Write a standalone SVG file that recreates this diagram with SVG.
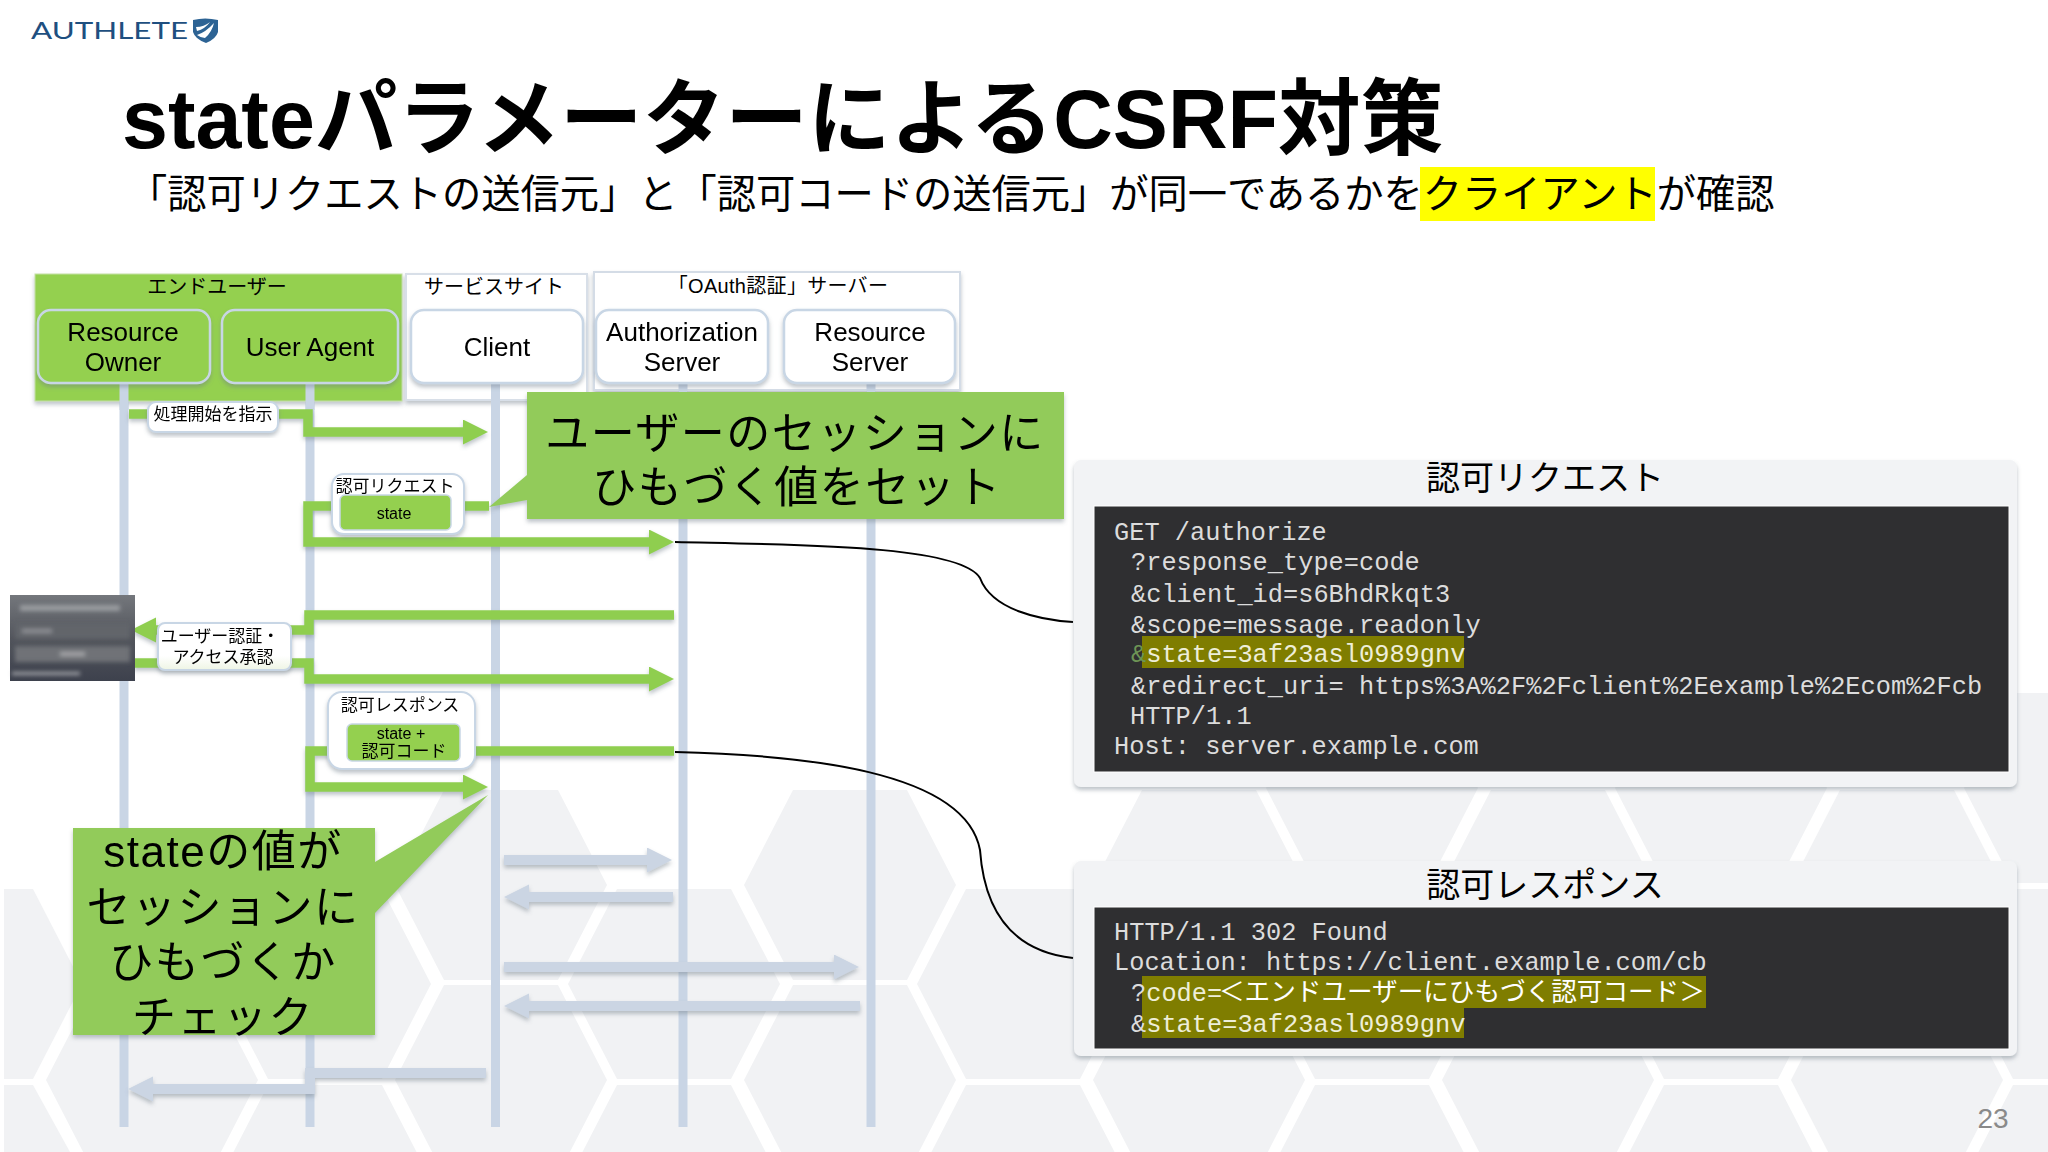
<svg xmlns="http://www.w3.org/2000/svg" width="2048" height="1152" viewBox="0 0 2048 1152">
<defs>
<style>
text{font-family:"Liberation Sans","Noto Sans CJK JP",sans-serif;fill:#000}
.mid{text-anchor:middle}
.node{font-size:26px}
.grp{font-size:20px}
.lbl{font-size:17px}
.call{font-size:44px;letter-spacing:1.500px}
.mono{font-family:"Liberation Mono","Noto Sans CJK JP",monospace;font-size:25.33px;fill:#dcdcdc}
.hl{fill:#7f7d00}
.ptitle{font-size:34px}
.life{stroke:#c9d5e5;stroke-width:9;fill:none}
.g{stroke:#8fce50;stroke-width:9.500;fill:none;marker-end:url(#hg);stroke-linejoin:miter}
.s{stroke:#cbd5e3;stroke-width:10;fill:none;marker-end:url(#hs);stroke-linejoin:miter}
.nb{stroke:#c8d6e5;stroke-width:2.500}
.green{fill:#94d050}
.callbox{fill:#92cb5a}
.pill{fill:#fff;stroke:#c8d6e5;stroke-width:2}
.panel{fill:#f2f3f5}
.dark{fill:#2f2f31;stroke:#fff;stroke-width:1}
.hex{fill:#f1f2f4}
</style>
<marker id="hg" markerUnits="userSpaceOnUse" markerWidth="26" markerHeight="26" refX="0" refY="12.500" orient="auto"><path d="M0 0L25 12.500L0 25Z" fill="#8fce50"/></marker>
<marker id="hs" markerUnits="userSpaceOnUse" markerWidth="26" markerHeight="26" refX="0" refY="12.500" orient="auto"><path d="M0 0L25 12.500L0 25Z" fill="#cbd5e3"/></marker>
<filter id="sh" x="-10%" y="-10%" width="120%" height="130%"><feDropShadow dx="0" dy="3" stdDeviation="2" flood-color="#6e7a88" flood-opacity=".45"/></filter>
<filter id="b" x="-5%" y="-30%" width="110%" height="160%"><feGaussianBlur stdDeviation="2.200"/></filter>
<linearGradient id="shot" x1="0" y1="0" x2="0" y2="1"><stop offset="0" stop-color="#74777c"/><stop offset=".5" stop-color="#52555c"/><stop offset="1" stop-color="#3d414d"/></linearGradient>
<linearGradient id="pg" x1="0" y1="0" x2="0" y2="1"><stop offset="0" stop-color="#fff"/><stop offset=".7" stop-color="#fff"/><stop offset="1" stop-color="#eef5e4"/></linearGradient>
<polygon id="hx" class="hex" points="-57,0 57,0 106,95 57,190 -57,190 -106,95"/>
</defs>
<rect width="2048" height="1152" fill="#fff"/>
<g id="background">
<use href="#hx" x="1372" y="693"/><use href="#hx" x="1721" y="693"/><use href="#hx" x="2070" y="693"/>
<use href="#hx" x="501" y="790"/><use href="#hx" x="850" y="790"/><use href="#hx" x="1199" y="790"/><use href="#hx" x="1548" y="790"/><use href="#hx" x="1897" y="790"/>
<use href="#hx" x="325" y="889"/><use href="#hx" x="674" y="889"/><use href="#hx" x="1023" y="889"/><use href="#hx" x="1372" y="889"/><use href="#hx" x="1721" y="889"/><use href="#hx" x="2070" y="889"/>
<use href="#hx" x="152" y="985"/><use href="#hx" x="501" y="985"/><use href="#hx" x="850" y="985"/><use href="#hx" x="1199" y="985"/><use href="#hx" x="1548" y="985"/><use href="#hx" x="1897" y="985"/>
<use href="#hx" x="325" y="1085"/><use href="#hx" x="674" y="1085"/><use href="#hx" x="1023" y="1085"/><use href="#hx" x="1372" y="1085"/><use href="#hx" x="1721" y="1085"/><use href="#hx" x="2070" y="1085"/>
<polygon class="hex" points="4,889 33,889 82,984 33,1079 4,1079"/>
<polygon class="hex" points="4,1085 33,1085 70,1152 4,1152"/>
</g>
<g id="logo">
<text x="31" y="39" font-size="24" textLength="157" lengthAdjust="spacingAndGlyphs" style="font-family:Lato,'Liberation Sans',sans-serif;fill:#1e4f80">AUTHLETE</text>
<path d="M193 20Q205 17 218 20V32Q216 39 206 43Q195 39 193 32Z" fill="#2d6394"/>
<path d="M197 35Q206 32 214 23Q212 32 205 38Q201 38 197 35Z M196 27Q204 27 210 22Q205 29 197 31Z" fill="#fff"/>
</g>
<g id="title">
<text x="122" y="148" font-size="82.600" font-weight="700">stateパラメーターによるCSRF対策</text>
<rect x="1420" y="167" width="235" height="54" fill="#ffff00"/>
<text x="128" y="208" font-size="39.250">「認可リクエストの送信元」と「認可コードの送信元」が同一であるかをクライアントが確認</text>
</g>
<g id="lifelines">
<path class="life" d="M124 383V1127M310 383V1127M495.500 383V1127M683 383V1127M871 383V1127"/>
</g>
<g id="group-enduser" filter="url(#sh)">
<rect class="green" x="35" y="274" width="367" height="127" stroke="#c3dfa4" stroke-width="1"/>
</g>
<text class="grp mid" x="217" y="294">エンドユーザー</text>
<g id="group-service" filter="url(#sh)">
<rect x="406" y="274" width="181" height="126" fill="#fff" stroke="#d8dfe8" stroke-width="2"/>
</g>
<text class="grp mid" x="494" y="294">サービスサイト</text>
<g id="group-oauth" filter="url(#sh)">
<rect x="594" y="272" width="366" height="118" fill="#fff" stroke="#d4dce6" stroke-width="2"/>
</g>
<text class="grp mid" x="778" y="293" style="letter-spacing:.3px">「OAuth認証」サーバー</text>
<path class="life" d="M124 383V410M310 383V410M495.500 383V410M683 383V400M871 383V400"/>
<g id="node-resource-owner" filter="url(#sh)">
<rect class="green nb" x="38" y="310" width="172" height="73" rx="13"/>
<text class="node mid" x="123" y="341">Resource</text><text class="node mid" x="123" y="371">Owner</text>
</g>
<g id="node-user-agent" filter="url(#sh)">
<rect class="green nb" x="222" y="310" width="176" height="73" rx="13"/>
<text class="node mid" x="310" y="356">User Agent</text>
</g>
<g id="node-client" filter="url(#sh)">
<rect class="nb" fill="#fff" x="411" y="310" width="172" height="73" rx="13"/>
<text class="node mid" x="497" y="356">Client</text>
</g>
<g id="node-authorization-server" filter="url(#sh)">
<rect class="nb" fill="#fff" x="596" y="310" width="172" height="73" rx="13"/>
<text class="node mid" x="682" y="341">Authorization</text><text class="node mid" x="682" y="371">Server</text>
</g>
<g id="node-resource-server" filter="url(#sh)">
<rect class="nb" fill="#fff" x="784" y="310" width="171" height="73" rx="13"/>
<text class="node mid" x="870" y="341">Resource</text><text class="node mid" x="870" y="371">Server</text>
</g>
<g id="connectors">
<g filter="url(#sh)">
<path class="g" d="M129 414H308V432H463"/>
<path class="g" d="M489 506H308V542H649"/>
<path class="g" d="M674 615H309V630H156"/>
<path class="g" d="M134 663H309V679H649"/>
<path class="g" d="M674 751H310V787H463"/>
<path class="s" d="M504 860H647"/>
<path class="s" d="M673 897H529"/>
<path class="s" d="M504 967H834"/>
<path class="s" d="M860 1006H529"/>
<path class="s" d="M486 1073H310V1089H153"/>
</g>
<path d="M675 542C800 545 960 545 980 578C992 610 1040 620 1073 622" fill="none" stroke="#000" stroke-width="2"/>
<path d="M675 752C800 755 965 770 980 850C985 920 1020 952 1073 958" fill="none" stroke="#000" stroke-width="2"/>
</g>
<g id="label-start" filter="url(#sh)">
<rect class="pill" x="148" y="402" width="130" height="30" rx="8"/>
<text class="lbl mid" x="213" y="420">処理開始を指示</text>
</g>
<g id="label-authz-request" filter="url(#sh)">
<rect class="pill" x="332" y="474" width="132" height="60" rx="12"/>
<text class="lbl mid" x="395" y="492">認可リクエスト</text>
<rect class="green" x="340" y="495" width="111" height="35" rx="5" stroke="#c8d6e5" stroke-width="1.500"/>
<text class="mid" x="394" y="519" font-size="16">state</text>
</g>
<g id="login-screen">
<rect x="10" y="595" width="125" height="86" fill="url(#shot)"/>
<g filter="url(#b)">
<rect x="20" y="605" width="100" height="6" fill="#9a9ca0"/>
<rect x="15" y="623" width="115" height="16" fill="#62656b"/>
<rect x="22" y="629" width="30" height="4" fill="#8d8f94"/>
<rect x="15" y="646" width="115" height="16" fill="#707277"/>
<rect x="60" y="652" width="25" height="4" fill="#a4a5a8"/>
<rect x="12" y="672" width="68" height="3" fill="#a6a8ac"/>
</g>
</g>
<g id="label-login" filter="url(#sh)">
<rect x="158" y="623" width="133" height="47" rx="7" fill="url(#pg)" stroke="#c8d6e5" stroke-width="2"/>
<text class="lbl mid" x="220" y="642">ユーザー認証・</text>
<text class="lbl mid" x="223" y="663">アクセス承認</text>
</g>
<g id="label-authz-response" filter="url(#sh)">
<rect class="pill" x="328" y="692" width="147" height="77" rx="14"/>
<text class="lbl mid" x="400" y="711">認可レスポンス</text>
<rect class="green" x="347" y="724" width="113" height="37" rx="5" stroke="#c8d6e5" stroke-width="1.500"/>
<text class="mid" x="401" y="739" font-size="16">state +</text>
<text class="mid" x="404" y="757" font-size="17">認可コード</text>
</g>
<g id="callout-session" filter="url(#sh)">
<path class="callbox" d="M527 392H1064V519H527V500L489 507L527 475Z"/>
<text class="call mid" x="795" y="449">ユーザーのセッションに</text>
<text class="call mid" x="797" y="503">ひもづく値をセット</text>
</g>
<g id="callout-check" filter="url(#sh)">
<path class="callbox" d="M73 828H375V862L488 795L375 913V1035H73Z"/>
<text class="call mid" x="223" y="867">stateの値が</text>
<text class="call mid" x="223" y="923">セッションに</text>
<text class="call mid" x="223" y="978">ひもづくか</text>
<text class="call mid" x="223" y="1033">チェック</text>
</g>
<g id="panel-request">
<rect class="panel" x="1074" y="460" width="943" height="327" rx="7" filter="url(#sh)"/>
<text class="ptitle mid" x="1545" y="490">認可リクエスト</text>
<rect class="dark" x="1094" y="506" width="915" height="266"/>
<rect class="hl" x="1142" y="636" width="322" height="32"/>
<text class="mono" x="1114" y="540">GET /authorize</text>
<text class="mono" x="1131" y="570">?response_type=code</text>
<text class="mono" x="1131" y="602">&amp;client_id=s6BhdRkqt3</text>
<text class="mono" x="1131" y="633">&amp;scope=message.readonly</text>
<text class="mono" x="1131" y="662"><tspan style="fill:#6d9455">&amp;</tspan><tspan style="fill:#eeeed8">state=3af23asl0989gnv</tspan></text>
<text class="mono" x="1131" y="694">&amp;redirect_uri= https%3A%2F%2Fclient%2Eexample%2Ecom%2Fcb</text>
<text class="mono" x="1130" y="724">HTTP/1.1</text>
<text class="mono" x="1114" y="754">Host: server.example.com</text>
</g>
<g id="panel-response">
<rect class="panel" x="1074" y="861" width="943" height="195" rx="7" filter="url(#sh)"/>
<text class="ptitle mid" x="1545" y="897">認可レスポンス</text>
<rect class="dark" x="1094" y="907" width="915" height="142"/>
<rect class="hl" x="1142" y="976" width="564" height="32"/>
<rect class="hl" x="1142" y="1008" width="322" height="30"/>
<text class="mono" x="1114" y="940">HTTP/1.1 302 Found</text>
<text class="mono" x="1114" y="970">Location: https://client.example.com/cb</text>
<text class="mono" x="1131" y="1001">?<tspan style="fill:#eeeed8">code=</tspan></text>
<text x="1219" y="1001" font-size="25.600" style="fill:#fff">＜エンドユーザーにひもづく認可コード＞</text>
<text class="mono" x="1131" y="1032">&amp;<tspan style="fill:#eeeed8">state=3af23asl0989gnv</tspan></text>
</g>
<text id="page-number" class="mid" x="1993" y="1128" font-size="28" style="fill:#8a8a8a">23</text>
</svg>
